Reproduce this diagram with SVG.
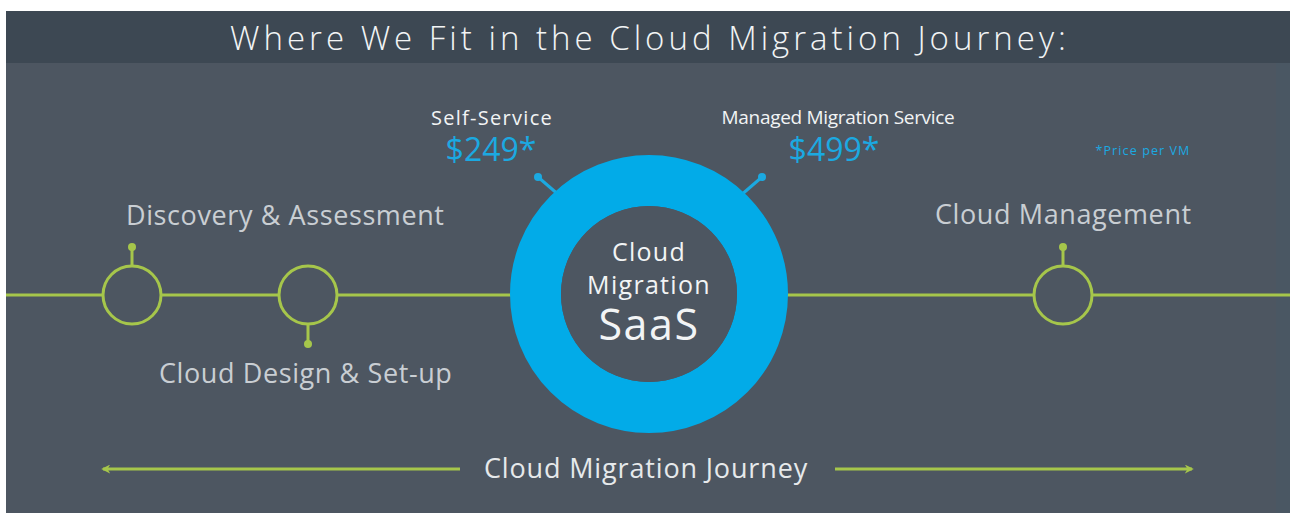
<svg xmlns="http://www.w3.org/2000/svg" width="1290" height="515" viewBox="0 0 1290 515">
<defs>
<style>
.lbl{font-family:"Open Sans","Noto Sans","DejaVu Sans",sans-serif;fill:#c9ced3;font-size:27px;letter-spacing:0.6px}
.wht{font-family:"Open Sans","Noto Sans","DejaVu Sans",sans-serif;fill:#f2f4f5}
.blue{font-family:"Open Sans","Noto Sans","DejaVu Sans",sans-serif;fill:#1ba9e1}
.gl{stroke:#a6c64b;stroke-width:3;fill:none}
.dot{fill:#a6c64b}
.bl{stroke:#1ba9e1;stroke-width:3;fill:none}
.bdot{fill:#1ba9e1}
</style>
<marker id="ah" viewBox="0 0 10 10" refX="8" refY="5" markerWidth="3" markerHeight="3" orient="auto-start-reverse" markerUnits="strokeWidth">
<path d="M0,0 L10,5 L0,10 L3,5 z" fill="#a6c64b"/>
</marker>
</defs>
<rect x="0" y="0" width="1290" height="515" fill="#ffffff"/>
<rect x="6" y="11" width="1284" height="502" fill="#4d5661"/>
<rect x="6" y="11" width="1284" height="52" fill="#3d4853"/>
<rect x="1276" y="63" width="14" height="450" fill="#4a5763"/>
<text x="650" y="50" text-anchor="middle" class="wht" font-size="33" font-weight="300" letter-spacing="4">Where We Fit in the Cloud Migration Journey:</text>

<g id="connectors">
<line class="gl" x1="6" y1="295" x2="103" y2="295"/>
<line class="gl" x1="161" y1="295" x2="279" y2="295"/>
<line class="gl" x1="337" y1="295" x2="511" y2="295"/>
<line class="gl" x1="787" y1="295" x2="1034" y2="295"/>
<line class="gl" x1="1092" y1="295" x2="1290" y2="295"/>
<line class="gl" x1="103" y1="469" x2="460" y2="469" marker-start="url(#ah)"/>
<line class="gl" x1="835" y1="469" x2="1192" y2="469" marker-end="url(#ah)"/>
</g>

<g id="discovery">
<circle class="gl" cx="132" cy="295" r="29"/>
<line class="gl" x1="132" y1="266" x2="132" y2="247"/>
<circle class="dot" cx="132" cy="247" r="4"/>
<text class="lbl" x="126" y="225">Discovery &amp; Assessment</text>
</g>

<g id="design">
<circle class="gl" cx="308" cy="295" r="29"/>
<line class="gl" x1="308" y1="324" x2="308" y2="344"/>
<circle class="dot" cx="308" cy="344" r="4"/>
<text class="lbl" x="159" y="383">Cloud Design &amp; Set-up</text>
</g>

<g id="management">
<circle class="gl" cx="1063" cy="295" r="29"/>
<line class="gl" x1="1063" y1="266" x2="1063" y2="247"/>
<circle class="dot" cx="1063" cy="247" r="4"/>
<text class="lbl" x="935" y="224">Cloud Management</text>
</g>

<g id="saas">
<line class="bl" x1="560" y1="196" x2="538" y2="177"/>
<circle class="bdot" cx="538" cy="177" r="4"/>
<line class="bl" x1="740" y1="196" x2="762" y2="177"/>
<circle class="bdot" cx="762" cy="177" r="4"/>
<circle cx="649" cy="294" r="113.5" fill="none" stroke="#02abe8" stroke-width="51"/>
<circle cx="649" cy="294" r="88" fill="#4d5661"/>
<text class="wht" x="649" y="261" text-anchor="middle" font-size="25" letter-spacing="1.3">Cloud</text>
<text class="wht" x="649" y="294" text-anchor="middle" font-size="25" letter-spacing="1.3">Migration</text>
<text class="wht" x="649" y="340" text-anchor="middle" font-size="43" letter-spacing="1.5">SaaS</text>
</g>

<g id="self-service">
<text class="wht" x="492" y="125" text-anchor="middle" font-size="20" letter-spacing="1.3">Self-Service</text>
<text class="blue" x="491" y="161" text-anchor="middle" font-size="32">$249*</text>
</g>

<g id="managed">
<text class="wht" x="838" y="124" text-anchor="middle" font-size="19" letter-spacing="-0.3">Managed Migration Service</text>
<text class="blue" x="834" y="161" text-anchor="middle" font-size="32">$499*</text>
</g>

<text class="blue" x="1143" y="155" text-anchor="middle" font-size="12.5" letter-spacing="1.1">*Price per VM</text>

<text class="lbl" x="646" y="478" text-anchor="middle" style="fill:#e6e9eb;letter-spacing:0.85px">Cloud Migration Journey</text>
</svg>
